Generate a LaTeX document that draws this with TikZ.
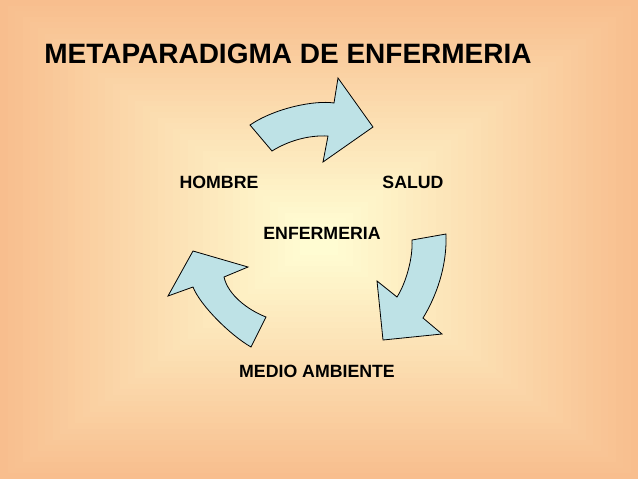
\documentclass[tikz,border=0pt]{standalone}
\usepackage{fontspec}
\setmainfont{Liberation Sans}
\usepackage{xcolor}
\definecolor{bgout}{RGB}{248,190,142}
\definecolor{bgin}{RGB}{255,252,210}
\definecolor{arrowfill}{RGB}{190,226,230}

\begin{document}
\begin{tikzpicture}[
  x=0.75pt, y=-0.75pt,
  blockarrow/.style={draw=black, line width=0.6pt, fill=arrowfill, line join=miter},
  lbl/.style={font=\fontsize{13.3}{16}\selectfont\bfseries, inner sep=0pt},
  heading/.style={font=\fontsize{21}{25}\selectfont\bfseries, inner sep=0pt, anchor=west}
]
\useasboundingbox (0,0) rectangle (638,479);
% background
\foreach \k in {0,...,40} {
  \pgfmathsetmacro\p{\k*2.5}
  \fill[bgin!\p!bgout] (\k*7.5,\k*5.6) rectangle (638-\k*7.5,479-\k*5.6);
}

\node[heading] (title) at (44,54) {METAPARADIGMA DE ENFERMERIA};

% arrows
\draw[blockarrow] (250,125) -- (272,151)
  .. controls (288,141) and (308,135) .. (328,136)
  -- (323,162) -- (373,127) -- (338,78) -- (334,103)
  .. controls (315,100) and (275,108) .. cycle;
\draw[blockarrow] (412,240) -- (446,234)
  .. controls (447,260) and (440,290) .. (423,318)
  -- (442,334) -- (383,340) -- (377,281) -- (397,297)
  .. controls (406,283) and (413,258) .. cycle;
\draw[blockarrow] (193,251) -- (248,267) -- (224,277)
  .. controls (228,295) and (248,310) .. (266,317)
  -- (251,347)
  .. controls (230,335) and (200,305) .. (193,287)
  -- (168,296) -- cycle;

% labels
\node[lbl] (hombre) at (219,182) {HOMBRE};
\node[lbl] (salud) at (413,182) {SALUD};
\node[lbl] (enf) at (322,233) {ENFERMERIA};
\node[lbl] (medio) at (317,371) {MEDIO AMBIENTE};
\end{tikzpicture}
\end{document}
